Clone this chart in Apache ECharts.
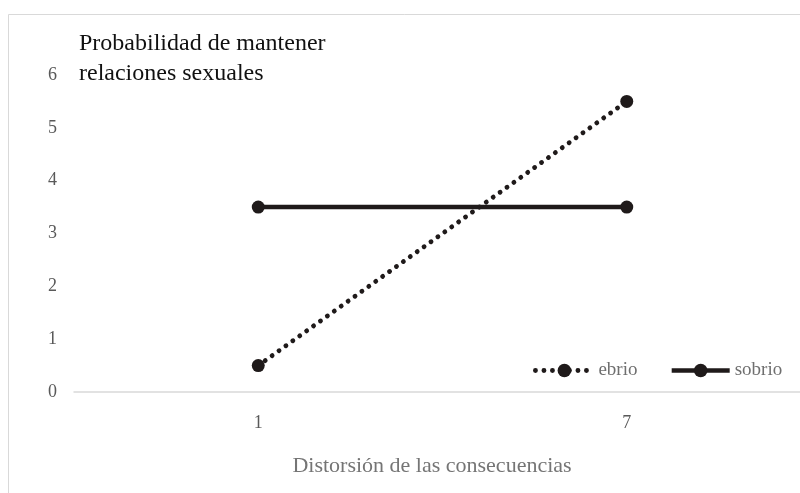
<!DOCTYPE html>
<html>
<head>
<meta charset="utf-8">
<script src="https://cdn.jsdelivr.net/npm/echarts@6/dist/echarts.min.js"></script>
<style>html,body{margin:0;padding:0;background:#fff;}#c{width:800px;height:493px;}</style>
</head>
<body>
<div id="c"></div>
<script>
const categories = ['1', '7'];
const ebrio = [0.5, 5.5];
const sobrio = [3.5, 3.5];
const yTicks = [0, 1, 2, 3, 4, 5, 6];
const titleText = 'Probabilidad de mantener\nrelaciones sexuales';
const xName = 'Distorsión de las consecuencias';

const FONT = '"Liberation Serif", "Times New Roman", serif';
const chart = echarts.init(document.getElementById('c'));
chart.setOption({
  animation: false,
  backgroundColor: '#fff',
  graphic: [
    { type: 'rect', shape: { x: 8.5, y: 14.5, width: 900, height: 600 }, style: { fill: 'none', stroke: '#d9d9d9', lineWidth: 1 }, z: -1 },
    { type: 'text', x: 432, y: 466, style: { text: xName, font: '22px ' + FONT, fill: '#757575', align: 'center', verticalAlign: 'middle' } }
  ],
  title: {
    text: titleText, left: 74, top: 24,
    textStyle: { fontFamily: FONT, fontSize: 24, fontWeight: 'normal', color: '#111', lineHeight: 30 }
  },
  legend: {
    left: 528, top: 356,
    itemWidth: 58, itemHeight: 17, itemGap: 32,
    lineStyle: { width: 'inherit' },
    textStyle: { fontFamily: FONT, fontSize: 19, color: '#6f6f6f' },
    data: ['ebrio', 'sobrio']
  },
  grid: { left: 74, right: -11, top: 75, bottom: 101, outerBoundsMode: 'none' },
  xAxis: {
    type: 'category', data: categories, boundaryGap: true,
    axisLine: { lineStyle: { color: '#d9d9d9', width: 1.5 } },
    axisTick: { show: false },
    axisLabel: { fontFamily: FONT, fontSize: 18, color: '#595959', margin: 22 }
  },
  yAxis: {
    type: 'value', min: yTicks[0], max: yTicks[yTicks.length - 1], interval: 1,
    axisLine: { show: false }, axisTick: { show: false }, splitLine: { show: false },
    axisLabel: { fontFamily: FONT, fontSize: 18, color: '#595959', margin: 17 }
  },
  series: [
    {
      name: 'ebrio', type: 'line', data: ebrio,
      symbol: 'circle', symbolSize: 13,
      itemStyle: { color: '#1f1a1a' },
      lineStyle: { color: '#1f1a1a', width: 4.8, type: [0.1, 8.4], cap: 'round' }
    },
    {
      name: 'sobrio', type: 'line', data: sobrio,
      symbol: 'circle', symbolSize: 13,
      itemStyle: { color: '#1f1a1a' },
      lineStyle: { color: '#1f1a1a', width: 4.5 }
    }
  ]
});
</script>
</body>
</html>
